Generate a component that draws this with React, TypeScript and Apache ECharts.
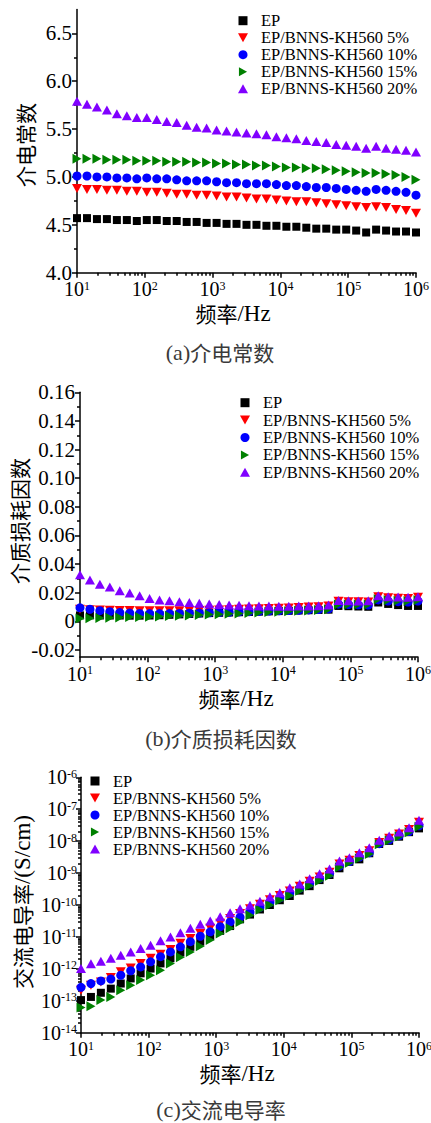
import React, { useEffect, useRef } from 'react';
import * as echarts from 'echarts';

// frequencies (Hz)
const freq = [10, 14.03, 19.68, 27.61, 38.74, 54.35, 76.25, 107.0, 150.1, 210.6, 295.5, 414.6, 581.6, 816.0, 1145, 1606, 2253, 3162, 4437, 6224, 8733, 12252, 17189, 24116, 33834, 47468, 66596, 93433, 131085, 183908, 258020, 361995, 507867, 712524, 1000000];

const seriesNames = ['EP', 'EP/BNNS-KH560 5%', 'EP/BNNS-KH560 10%', 'EP/BNNS-KH560 15%', 'EP/BNNS-KH560 20%'];

// (a) dielectric constant
const dkEP = [4.57, 4.57, 4.56, 4.56, 4.55, 4.55, 4.54, 4.55, 4.55, 4.54, 4.54, 4.53, 4.53, 4.52, 4.52, 4.51, 4.51, 4.50, 4.50, 4.49, 4.49, 4.48, 4.48, 4.47, 4.46, 4.46, 4.45, 4.45, 4.44, 4.42, 4.45, 4.44, 4.43, 4.43, 4.42];
const dk5 = [4.88, 4.87, 4.87, 4.86, 4.86, 4.85, 4.85, 4.84, 4.84, 4.83, 4.82, 4.82, 4.81, 4.81, 4.80, 4.79, 4.79, 4.78, 4.77, 4.77, 4.76, 4.75, 4.74, 4.74, 4.73, 4.72, 4.71, 4.70, 4.69, 4.68, 4.69, 4.68, 4.66, 4.65, 4.62];
const dk10 = [5.01, 5.01, 5.00, 5.00, 4.99, 4.99, 4.98, 4.99, 4.98, 4.98, 4.97, 4.96, 4.96, 4.96, 4.95, 4.94, 4.94, 4.93, 4.93, 4.93, 4.92, 4.91, 4.91, 4.90, 4.89, 4.89, 4.88, 4.87, 4.86, 4.85, 4.87, 4.86, 4.85, 4.84, 4.81];
const dk15 = [5.19, 5.19, 5.19, 5.18, 5.18, 5.18, 5.17, 5.17, 5.17, 5.16, 5.16, 5.16, 5.15, 5.15, 5.14, 5.14, 5.13, 5.13, 5.12, 5.12, 5.11, 5.10, 5.10, 5.09, 5.09, 5.08, 5.07, 5.06, 5.05, 5.04, 5.04, 5.03, 5.02, 5.00, 4.97];
const dk20 = [5.79, 5.76, 5.73, 5.70, 5.66, 5.64, 5.62, 5.62, 5.60, 5.58, 5.57, 5.54, 5.52, 5.51, 5.49, 5.48, 5.47, 5.46, 5.45, 5.44, 5.42, 5.41, 5.40, 5.38, 5.37, 5.36, 5.34, 5.33, 5.32, 5.30, 5.32, 5.30, 5.29, 5.28, 5.26];

// (b) loss factor
const tanEP = [0.0042, 0.0042, 0.0041, 0.0041, 0.0041, 0.0040, 0.0040, 0.0041, 0.0043, 0.0046, 0.0049, 0.0052, 0.0055, 0.0058, 0.0060, 0.0062, 0.0064, 0.0066, 0.0068, 0.0070, 0.0072, 0.0074, 0.0076, 0.0078, 0.0080, 0.0082, 0.0108, 0.0106, 0.0104, 0.0102, 0.0132, 0.0122, 0.0114, 0.0108, 0.0108];
const tan5 = [0.0085, 0.0082, 0.0080, 0.0078, 0.0077, 0.0076, 0.0075, 0.0074, 0.0074, 0.0074, 0.0075, 0.0076, 0.0077, 0.0078, 0.0080, 0.0082, 0.0084, 0.0086, 0.0088, 0.0090, 0.0092, 0.0094, 0.0097, 0.0100, 0.0103, 0.0107, 0.0140, 0.0138, 0.0137, 0.0136, 0.0172, 0.0165, 0.0162, 0.0160, 0.0168];
const tan10 = [0.0095, 0.0085, 0.0075, 0.0068, 0.0062, 0.0058, 0.0056, 0.0055, 0.0055, 0.0055, 0.0056, 0.0057, 0.0058, 0.0060, 0.0062, 0.0064, 0.0066, 0.0068, 0.0070, 0.0072, 0.0074, 0.0076, 0.0078, 0.0080, 0.0083, 0.0087, 0.0120, 0.0118, 0.0116, 0.0114, 0.0150, 0.0142, 0.0138, 0.0135, 0.0142];
const tan15 = [0.0020, 0.0022, 0.0024, 0.0026, 0.0028, 0.0030, 0.0031, 0.0033, 0.0035, 0.0037, 0.0040, 0.0042, 0.0045, 0.0048, 0.0050, 0.0053, 0.0056, 0.0059, 0.0062, 0.0065, 0.0068, 0.0071, 0.0074, 0.0077, 0.0080, 0.0084, 0.0118, 0.0118, 0.0118, 0.0118, 0.0155, 0.0148, 0.0145, 0.0142, 0.0148];
const tan20 = [0.0325, 0.0290, 0.0260, 0.0240, 0.0214, 0.0198, 0.0180, 0.0160, 0.0150, 0.0144, 0.0137, 0.0132, 0.0126, 0.0122, 0.0118, 0.0115, 0.0112, 0.0110, 0.0108, 0.0107, 0.0106, 0.0106, 0.0107, 0.0108, 0.0110, 0.0114, 0.0146, 0.0145, 0.0143, 0.0145, 0.0180, 0.0172, 0.0170, 0.0168, 0.0172];

// (c) AC conductivity (S/cm)
const sigEP = [1.05e-13, 1.32e-13, 1.78e-13, 2.40e-13, 3.47e-13, 5.01e-13, 7.24e-13, 1.02e-12, 1.48e-12, 2.14e-12, 3.24e-12, 4.90e-12, 7.08e-12, 1.05e-11, 1.55e-11, 2.19e-11, 3.55e-11, 5.01e-11, 7.24e-11, 1.00e-10, 1.41e-10, 1.91e-10, 2.82e-10, 3.89e-10, 6.03e-10, 8.71e-10, 1.41e-9, 2.24e-9, 2.69e-9, 4.17e-9, 8.13e-9, 1.02e-8, 1.38e-8, 1.91e-8, 2.51e-8];
const sig5 = [2.14e-13, 3.09e-13, 3.89e-13, 5.37e-13, 8.13e-13, 1.07e-12, 1.48e-12, 2.14e-12, 2.88e-12, 4.07e-12, 6.31e-12, 8.91e-12, 1.29e-11, 1.86e-11, 2.69e-11, 3.80e-11, 5.37e-11, 7.59e-11, 1.05e-10, 1.45e-10, 2.00e-10, 2.75e-10, 3.89e-10, 5.50e-10, 7.59e-10, 1.07e-9, 1.91e-9, 2.51e-9, 3.55e-9, 5.01e-9, 9.12e-9, 1.23e-8, 1.66e-8, 2.30e-8, 3.90e-8];
const sig10 = [2.63e-13, 3.47e-13, 4.17e-13, 4.79e-13, 6.31e-13, 8.71e-13, 1.15e-12, 1.66e-12, 2.40e-12, 3.39e-12, 4.90e-12, 7.08e-12, 1.05e-11, 1.45e-11, 2.09e-11, 2.95e-11, 4.17e-11, 5.89e-11, 8.51e-11, 1.20e-10, 1.66e-10, 2.34e-10, 3.31e-10, 4.68e-10, 6.76e-10, 9.55e-10, 1.66e-9, 2.29e-9, 3.16e-9, 4.37e-9, 8.32e-9, 1.10e-8, 1.48e-8, 2.00e-8, 3.02e-8];
const sig15 = [6.17e-14, 6.76e-14, 1.05e-13, 1.32e-13, 2.14e-13, 3.09e-13, 4.47e-13, 6.31e-13, 9.12e-13, 1.48e-12, 2.29e-12, 3.39e-12, 5.13e-12, 7.94e-12, 1.29e-11, 1.86e-11, 2.95e-11, 4.79e-11, 7.08e-11, 1.00e-10, 1.41e-10, 2.00e-10, 2.82e-10, 3.98e-10, 5.75e-10, 8.32e-10, 1.51e-9, 2.09e-9, 2.88e-9, 3.98e-9, 7.94e-9, 1.05e-8, 1.41e-8, 1.91e-8, 2.82e-8];
const sig20 = [1.02e-12, 1.45e-12, 1.74e-12, 2.14e-12, 2.69e-12, 3.39e-12, 4.37e-12, 5.50e-12, 7.59e-12, 1.00e-11, 1.35e-11, 1.86e-11, 2.51e-11, 3.16e-11, 4.27e-11, 5.75e-11, 7.59e-11, 9.77e-11, 1.32e-10, 1.82e-10, 2.40e-10, 3.47e-10, 4.57e-10, 6.61e-10, 9.55e-10, 1.35e-9, 2.40e-9, 3.02e-9, 4.37e-9, 6.17e-9, 1.07e-8, 1.45e-8, 1.95e-8, 2.63e-8, 4.50e-8];

// tick values
const freqTicks = [10, 100, 1000, 10000, 100000, 1000000];
const dkTicks = [4.0, 4.5, 5.0, 5.5, 6.0, 6.5];
const dkMinor = [4.25, 4.75, 5.25, 5.75, 6.25];
const tanTicks = [-0.02, 0, 0.02, 0.04, 0.06, 0.08, 0.10, 0.12, 0.14, 0.16];
const tanMinor = [-0.01, 0.01, 0.03, 0.05, 0.07, 0.09, 0.11, 0.13, 0.15];
const sigTicks = [1e-14, 1e-13, 1e-12, 1e-11, 1e-10, 1e-9, 1e-8, 1e-7, 1e-6];

const colors = ['#000000', '#ff0000', '#0000ff', '#008000', '#8000ff'];
const symbols = ['path://M0,0L10,0L10,10L0,10Z', 'path://M0,0L10,0L5,9Z', 'circle', 'path://M0,0L9,5L0,10Z', 'path://M5,0L10,9L0,9Z'];
const symSizes = [8, 10, 9, 10, 10];

const SERIF = 'Liberation Serif';
const CJK = 'Noto Sans CJK SC';

function logMinor(from: number, to: number) {
  const out: number[] = [];
  for (let d = from; d < to; d++) {
    for (let m = 2; m <= 9; m++) out.push(Number((m * Math.pow(10, d)).toPrecision(3)));
  }
  return out;
}

const lineStyle = { color: '#000', width: 1.5 };

const supRich = {
  b: { fontFamily: SERIF, fontSize: 20, lineHeight: 19, color: '#000' },
  s: { fontFamily: SERIF, fontSize: 12, lineHeight: 11, color: '#000', verticalAlign: 'top' },
};
const expFormatter = (v: number) => `{b|10}{s|${Math.round(Math.log10(v))}}`;

function mainX(gridIndex: number) {
  return {
    type: 'log', logBase: 10, gridIndex, min: 10, max: 1e6, position: 'bottom',
    axisLine: { show: true, onZero: false, lineStyle },
    axisTick: { show: true, inside: false, length: 5, lineStyle, customValues: freqTicks },
    axisLabel: { show: true, customValues: freqTicks, margin: 7, formatter: expFormatter, rich: supRich },
    splitLine: { show: false }, minorTick: { show: false }, minorSplitLine: { show: false },
  };
}
function minorX(gridIndex: number) {
  return {
    type: 'log', logBase: 10, gridIndex, min: 10, max: 1e6, position: 'bottom',
    axisLine: { show: false, onZero: false },
    axisTick: { show: true, inside: false, length: 3, lineStyle, customValues: logMinor(1, 6) },
    axisLabel: { show: false }, splitLine: { show: false },
  };
}

function mainY(gridIndex: number, extra: any) {
  return {
    gridIndex, position: 'left',
    axisLine: { show: true, onZero: false, lineStyle },
    axisTick: { show: true, inside: false, length: 5, lineStyle, customValues: extra.ticks },
    axisLabel: { show: true, customValues: extra.ticks, margin: extra.margin, formatter: extra.formatter, rich: supRich, fontFamily: SERIF, fontSize: 21, lineHeight: 14, color: '#000' },
    splitLine: { show: false }, minorTick: { show: false },
    type: extra.type, min: extra.min, max: extra.max, logBase: 10,
  };
}
function minorY(gridIndex: number, extra: any) {
  return {
    gridIndex, position: 'left', type: extra.type, min: extra.min, max: extra.max, logBase: 10,
    axisLine: { show: false, onZero: false },
    axisTick: { show: true, inside: false, length: 3, lineStyle, customValues: extra.ticks },
    axisLabel: { show: false }, splitLine: { show: false },
  };
}

function txt(x: number, y: number, text: string, rich: any, rotation = 0) {
  return { type: 'text', x, y, rotation, silent: true, style: { text, rich, align: 'center', verticalAlign: 'middle' } };
}

const axisTitleRich = {
  c: { fontFamily: CJK, fontSize: 21, lineHeight: 21, fill: '#000' },
  l: { fontFamily: SERIF, fontSize: 23, lineHeight: 21, fill: '#000' },
};
const capRich = {
  a: { fontFamily: SERIF, fontSize: 22, lineHeight: 21, fill: '#3a3a3a' },
  c: { fontFamily: CJK, fontSize: 21, lineHeight: 21, fill: '#3a3a3a' },
};

export default function App() {
  const ref = useRef<HTMLDivElement>(null);
  useEffect(() => {
    if (!ref.current) return;
    const chart = echarts.init(ref.current, null, { renderer: 'svg' });
    const groups = [
      { xi: 0, yi: 0, data: [dkEP, dk5, dk10, dk15, dk20] },
      { xi: 2, yi: 2, data: [tanEP, tan5, tan10, tan15, tan20] },
      { xi: 4, yi: 4, data: [sigEP, sig5, sig10, sig15, sig20] },
    ];
    const series: any[] = [];
    groups.forEach((g) => {
      g.data.forEach((vals, i) => {
        series.push({
          type: 'scatter', name: seriesNames[i], xAxisIndex: g.xi, yAxisIndex: g.yi,
          symbol: symbols[i], symbolSize: symSizes[i], symbolKeepAspect: true,
          itemStyle: { color: colors[i], opacity: 1 },
          emphasis: { disabled: true },
          data: freq.map((f, k) => [f, vals[k]]),
          z: 2 + i,
        });
      });
    });
    const legendPos = [
      { left: 238, top: 12.2, gap: 0 },
      { left: 240, top: 394.2, gap: 0.4 },
      { left: 90, top: 772.5, gap: 0 },
    ];
    const option: any = {
      animation: false,
      backgroundColor: '#ffffff',
      textStyle: { fontFamily: SERIF },
      grid: [
        { left: 77, top: 9.4, width: 339, height: 263.3, outerBoundsMode: 'none', containLabel: false },
        { left: 80, top: 392.3, width: 338, height: 264.9, outerBoundsMode: 'none', containLabel: false },
        { left: 81, top: 777.3, width: 338, height: 255.4, outerBoundsMode: 'none', containLabel: false },
      ],
      xAxis: [mainX(0), minorX(0), mainX(1), minorX(1), mainX(2), minorX(2)],
      yAxis: [
        mainY(0, { type: 'value', min: 4, max: 6.75, ticks: dkTicks, margin: 5, formatter: (v: number) => v.toFixed(1) }),
        minorY(0, { type: 'value', min: 4, max: 6.75, ticks: dkMinor }),
        mainY(1, { type: 'value', min: -0.025, max: 0.16, ticks: tanTicks, margin: 5, formatter: (v: number) => (Math.abs(v) < 1e-9 ? '0' : v.toFixed(2)) }),
        minorY(1, { type: 'value', min: -0.025, max: 0.16, ticks: tanMinor }),
        mainY(2, { type: 'log', min: 1e-14, max: 1e-6, ticks: sigTicks, margin: 4, formatter: expFormatter }),
        minorY(2, { type: 'log', min: 1e-14, max: 1e-6, ticks: logMinor(-14, -6) }),
      ],
      legend: legendPos.map((p) => ({
        orient: 'vertical', left: p.left, top: p.top, padding: 0, itemGap: p.gap,
        itemWidth: 26, itemHeight: 9, selectedMode: false,
        data: seriesNames,
        textStyle: { fontFamily: SERIF, fontSize: 16.5, color: '#000', lineHeight: 17 },
      })),
      graphic: [
        txt(25, 145, '{c|介电常数}', axisTitleRich, Math.PI / 2),
        txt(233, 313, '{c|频率}{l|/Hz}', axisTitleRich),
        txt(220, 352, '{a|(a)}{c|介电常数}', capRich),
        txt(19, 521, '{c|介质损耗因数}', axisTitleRich, Math.PI / 2),
        txt(236, 698, '{c|频率}{l|/Hz}', axisTitleRich),
        txt(221, 738, '{a|(b)}{c|介质损耗因数}', capRich),
        txt(22, 902, '{c|交流电导率}{l|/(S/cm)}', axisTitleRich, Math.PI / 2),
        txt(237, 1073, '{c|频率}{l|/Hz}', axisTitleRich),
        txt(221, 1109, '{a|(c)}{c|交流电导率}', capRich),
      ],
      series,
    };
    chart.setOption(option);
    return () => chart.dispose();
  }, []);
  return <div ref={ref} style={{ position: 'absolute', left: 0, top: 0, width: 431, height: 1123, background: '#fff' }} />;
}
